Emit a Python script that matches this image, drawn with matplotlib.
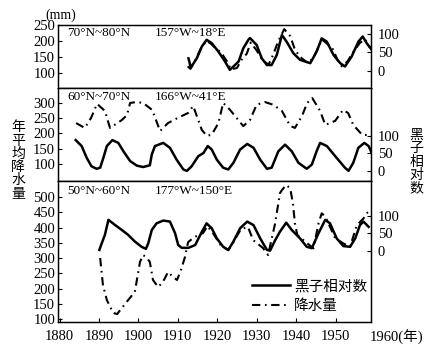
import numpy as np
import matplotlib
matplotlib.use('Agg')
import matplotlib.pyplot as plt
from matplotlib.lines import Line2D

plt.rcParams['font.family'] = ['Liberation Serif', 'Noto Sans CJK SC']

# panel 1: 70N-80N
yr1_s = [1912.7, 1913.3, 1914.8, 1916.1, 1917.3, 1918.6, 1920.3, 1922.0, 1923.2, 1925.4, 1926.6, 1927.9,
         1928.3, 1930.0, 1931.3, 1932.6, 1933.8, 1935.1, 1936.4, 1937.6, 1939.3, 1941.0, 1943.6, 1945.2,
         1946.5, 1947.8, 1949.5, 1951.2, 1952.4, 1954.1, 1955.8, 1956.9, 1957.9, 1959.2]
sun1 = [34, 9, 34, 66, 84, 75, 52, 25, 3, 25, 61, 84,
        89, 70, 34, 16, 16, 43, 97, 79, 48, 30, 21, 52,
        88, 79, 43, 21, 12, 39, 79, 93, 75, 57]
yr1_p = [1912.5, 1913.2, 1914.5, 1916.0, 1917.3, 1918.5, 1919.5, 1921.0, 1922.5, 1923.5, 1925.0, 1926.2,
         1927.5, 1928.5, 1930.0, 1931.5, 1933.0, 1934.2, 1935.5, 1937.0, 1938.5, 1939.7, 1941.0, 1943.0,
         1944.4, 1945.5, 1946.5, 1948.0, 1949.4, 1950.5, 1951.6, 1953.0, 1954.5, 1956.2, 1957.5, 1958.8]
rain1 = [120, 112, 140, 180, 200, 190, 178, 163, 135, 110, 115, 141,
         160, 195, 170, 140, 125, 157, 200, 237, 215, 173, 150, 130,
         147, 175, 205, 190, 173, 140, 120, 135, 165, 194, 205, 178]

# panel 2: 60N-70N
yr2_s = [1884.1, 1885.6, 1886.9, 1888.1, 1889.4, 1890.3, 1891.1, 1892.0, 1893.4, 1894.9, 1896.2, 1897.9,
         1899.6, 1901.2, 1902.9, 1903.4, 1904.2, 1906.3, 1908.0, 1909.7, 1911.4, 1912.3, 1913.5, 1915.2,
         1916.5, 1917.6, 1918.6, 1919.9, 1921.5, 1922.8, 1924.1, 1925.8, 1927.6, 1929.2, 1930.9, 1932.6,
         1933.8, 1935.5, 1937.2, 1938.9, 1940.6, 1942.7, 1944.0, 1945.2, 1946.1, 1947.8, 1950.3, 1952.4,
         1953.3, 1954.5, 1955.8, 1957.3, 1958.4, 1959.2]
sun2 = [88, 71, 37, 13, 6, 9, 37, 71, 88, 80, 56, 28,
        15, 11, 16, 47, 71, 80, 66, 32, 4, 0, 13, 42,
        51, 71, 61, 32, 9, 4, 23, 61, 77, 66, 32, 6,
        9, 56, 75, 56, 23, 6, 18, 56, 80, 71, 37, 9,
        0, 23, 66, 80, 71, 51]
yr2_p = [1884.2, 1886.4, 1888.0, 1889.5, 1891.5, 1892.8, 1895.8, 1897.1, 1897.9, 1899.6, 1901.2, 1903.5,
         1905.5, 1907.5, 1910.0, 1912.6, 1913.9, 1916.1, 1917.4, 1918.6, 1920.3, 1921.5, 1923.2, 1924.9,
         1926.6, 1928.3, 1930.0, 1932.1, 1934.2, 1936.4, 1938.5, 1939.7, 1941.5, 1942.8, 1944.1, 1946.1,
         1947.4, 1949.9, 1951.9, 1953.2, 1954.5, 1956.8, 1958.3]
rain2 = [234, 218, 251, 297, 274, 218, 244, 260, 300, 303, 300, 277,
         208, 234, 251, 267, 290, 211, 192, 196, 234, 300, 278, 251,
         224, 244, 294, 303, 294, 274, 225, 218, 257, 300, 316, 274,
         228, 241, 277, 267, 228, 195, 195]

# panel 3: 50N-60N
yr3_s = [1890.1, 1890.7, 1891.5, 1892.4, 1894.1, 1895.8, 1897.4, 1899.1, 1900.8, 1901.9, 1902.5, 1903.4,
         1904.6, 1906.3, 1908.0, 1909.3, 1910.1, 1911.0, 1912.7, 1914.4, 1916.1, 1917.3, 1918.6, 1919.9,
         1921.5, 1922.8, 1924.1, 1925.8, 1927.6, 1929.2, 1930.9, 1932.6, 1933.4, 1934.7, 1935.9, 1937.5,
         1938.9, 1941.0, 1942.7, 1944.0, 1945.7, 1947.4, 1948.6, 1950.3, 1952.0, 1953.7, 1955.0, 1956.2,
         1957.1, 1958.4]
sun3 = [3, 22, 46, 89, 74, 60, 46, 27, 12, 6, 22, 60,
        79, 87, 84, 51, 17, 9, 9, 17, 55, 79, 65, 36,
        12, 3, 27, 65, 84, 74, 36, 3, 1, 31, 55, 81,
        60, 36, 12, 8, 51, 89, 79, 36, 14, 12, 36, 74,
        84, 69]
yr3_p = [1890.3, 1891.0, 1892.0, 1893.6, 1894.6, 1895.8, 1897.4, 1899.1, 1900.4, 1901.2, 1902.2, 1902.9,
         1903.7, 1905.0, 1906.2, 1907.5, 1908.8, 1909.8, 1910.8, 1911.8, 1912.6, 1913.9, 1915.1, 1916.4,
         1917.5, 1919.0, 1921.0, 1922.8, 1924.0, 1926.0, 1927.8, 1929.1, 1931.6, 1932.9, 1934.7, 1935.9,
         1936.4, 1937.5, 1938.5, 1939.2, 1939.7, 1940.3, 1942.3, 1944.4, 1945.7, 1946.5, 1947.4, 1948.6,
         1949.9, 1952.0, 1953.7, 1955.4, 1957.1, 1957.9, 1958.4]
rain3 = [300, 212, 162, 120, 116, 136, 162, 189, 287, 310, 300, 287,
         228, 205, 221, 254, 238, 228, 261, 303, 352, 366, 375, 382,
         405, 380, 340, 326, 350, 395, 402, 359, 333, 310, 415, 513,
         523, 540, 529, 480, 414, 376, 354, 332, 414, 447, 436, 403,
         365, 348, 337, 408, 430, 447, 452]

panels = [
    dict(ys=yr1_s, s=sun1, yp=yr1_p, p=rain1, lat='70°N~80°N', lon='157°W~18°E',
         lticks=[100, 150, 200, 250], llim=(52, 250), rlim=(-46, 124)),
    dict(ys=yr2_s, s=sun2, yp=yr2_p, p=rain2, lat='60°N~70°N', lon='166°W~41°E',
         lticks=[100, 150, 200, 250, 300], llim=(44, 349), rlim=(-29, 237)),
    dict(ys=yr3_s, s=sun3, yp=yr3_p, p=rain3, lat='50°N~60°N', lon='177°W~150°E',
         lticks=[100, 150, 200, 250, 300, 350, 400, 450, 500], llim=(90, 553), rlim=(-203, 200)),
]
boxes = [(0.7493, 0.1795), (0.4843, 0.2650), (0.0826, 0.4017)]

fig = plt.figure(figsize=(4.34, 3.51), dpi=100)
dash = (4, 2.2, 0.8, 2.2)
axes = []
for pan, (b, h) in zip(panels, boxes):
    ax = fig.add_axes([0.1336, b, 0.7212, h])
    tw = ax.twinx()
    ax.plot(pan['yp'], pan['p'], color='black', lw=1.5, dashes=dash)
    tw.plot(pan['ys'], pan['s'], color='black', lw=1.8)
    ax.set_xlim(1879.6, 1959)
    ax.set_ylim(*pan['llim'])
    tw.set_ylim(*pan['rlim'])
    ax.set_yticks(pan['lticks'])
    tw.set_yticks([0, 50, 100])
    ax.tick_params(axis='y', direction='in', length=3, width=0.8, pad=2, labelsize=10.5)
    tw.tick_params(axis='y', direction='in', length=3, width=0.8, pad=5, labelsize=10.5)
    ax.tick_params(axis='x', direction='in', length=3, width=0.8, pad=6, labelsize=10.5)
    for a in (ax, tw):
        for sp in a.spines.values():
            sp.set_linewidth(0.9)
    ax.text(0.03, 0.97, pan['lat'], transform=ax.transAxes, fontsize=9.5, va='top', ha='left')
    ax.text(0.31, 0.97, pan['lon'], transform=ax.transAxes, fontsize=9.5, va='top', ha='left')
    axes.append((ax, tw))

for ax, tw in axes[:2]:
    ax.set_xticks([])
    tw.set_xticks([])

ax3 = axes[2][0]
ax3.set_xticks([1880, 1890, 1900, 1910, 1920, 1930, 1940, 1950])
ax3.annotate('1960(年)', xy=(1960, 0), xycoords=('data', 'axes fraction'),
             xytext=(-4, -11), textcoords='offset points', ha='left', va='center',
             fontsize=10.5, annotation_clip=False)

fig.text(45 / 434, 1 - 15 / 351, '(mm)', fontsize=10, ha='left', va='center')
fig.text(18 / 434, 1 - 161 / 351, '\n'.join('年平均降水量'), fontsize=10, ha='center', va='center',
         linespacing=1.02)
fig.text(416 / 434, 1 - 162 / 351, '\n'.join('黑子相对数'), fontsize=10, ha='center', va='center',
         linespacing=1.02)

handles = [Line2D([], [], color='black', lw=1.8),
           Line2D([], [], color='black', lw=1.5, dashes=dash)]
ax3.legend(handles, ['黑子相对数', '降水量'], loc='upper left', bbox_to_anchor=(0.62, 0.30),
           frameon=False, fontsize=10.5, handlelength=2.6, handletextpad=0.3,
           borderpad=0, borderaxespad=0, labelspacing=0.45)

fig.savefig('out.png', dpi=100)
